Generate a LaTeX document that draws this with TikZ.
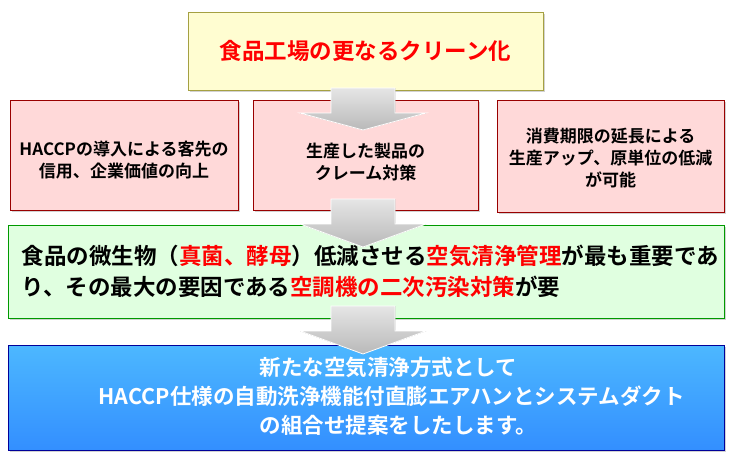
\documentclass[tikz,border=0pt]{standalone}
\usepackage{fontspec}
\setmainfont{Noto Sans CJK JP}[BoldFont={Noto Sans CJK JP Bold}]
\usetikzlibrary{shadows}
\begin{document}
\begin{tikzpicture}[x=1pt,y=-1pt,
  box/.style={draw=#1!60!black,line width=0.8pt,inner sep=0pt,drop shadow={shadow xshift=1.5pt,shadow yshift=-1.5pt,opacity=0.35}},
  txt/.style={font=\bfseries,align=center},
  arr/.style={top color=gray!20,bottom color=gray!55,draw=white,line width=0.8pt}]
\useasboundingbox (0,0) rectangle (730,463);
\fill[white] (0,0) rectangle (730,463);
% top
\node[box=yellow,fill=yellow!18,minimum width=355pt,minimum height=78pt] (top) at (365.5,51) {};
\node[txt,text=red,font=\bfseries\fontsize{22.5}{26}\selectfont] (toptxt) at (top) {食品工場の更なるクリーン化};
% pink boxes
\foreach \n/\cx/\w/\h in {p1/124/228/110,p2/365.5/225/110,p3/610.5/227/112}{
  \node[box=red,fill=red!15,minimum width=\w pt,minimum height=\h pt] (\n) at (\cx,{100+\h/2}) {};}
\node[txt,font=\bfseries\fontsize{17}{22}\selectfont] (t1) at (124,160) {HACCPの導入による客先の\\信用、企業価値の向上};
\node[txt,font=\bfseries\fontsize{17}{22}\selectfont] (t2) at (365.5,162) {生産した製品の\\クレーム対策};
\node[txt,font=\bfseries\fontsize{17}{22}\selectfont] (t3) at (610.5,158) {消費期限の延長による\\生産アップ、原単位の低減\\が可能};
% green
\node[box=green,fill=green!12,minimum width=716pt,minimum height=93pt] (g) at (366,271.5) {};
% blue
\node[box=blue,top color=cyan!60!blue!70,bottom color=blue!55!cyan!80,minimum width=716pt,minimum height=105pt] (b) at (366,397.5) {};
% arrows
\foreach \y/\t in {88/130,199/247,306/354}{
  \filldraw[arr] (331,\y) -- (395,\y) -- (395,\y+25) -- (426,\y+25) -- (363,\t) -- (300,\y+25) -- (331,\y+25) -- cycle;}
\node[txt,font=\bfseries\fontsize{22.5}{31}\selectfont,align=left,anchor=west] (gt) at (18,271) {食品の微生物（\textcolor{red}{真菌、酵母}）低減させる\textcolor{red}{空気清浄管理}が最も重要であ\\り、その最大の要因である\textcolor{red}{空調機の二次汚染対策}が要};
\node[txt,text=white,font=\bfseries\fontsize{21.5}{29}\selectfont,align=left,anchor=west] (bt) at (95,396) {\hspace*{161pt}新たな空気清浄方式として\\HACCP仕様の自動洗浄機能付直膨エアハンとシステムダクト\\\hspace*{161pt}の組合せ提案をしたします。};
\end{tikzpicture}
\end{document}
